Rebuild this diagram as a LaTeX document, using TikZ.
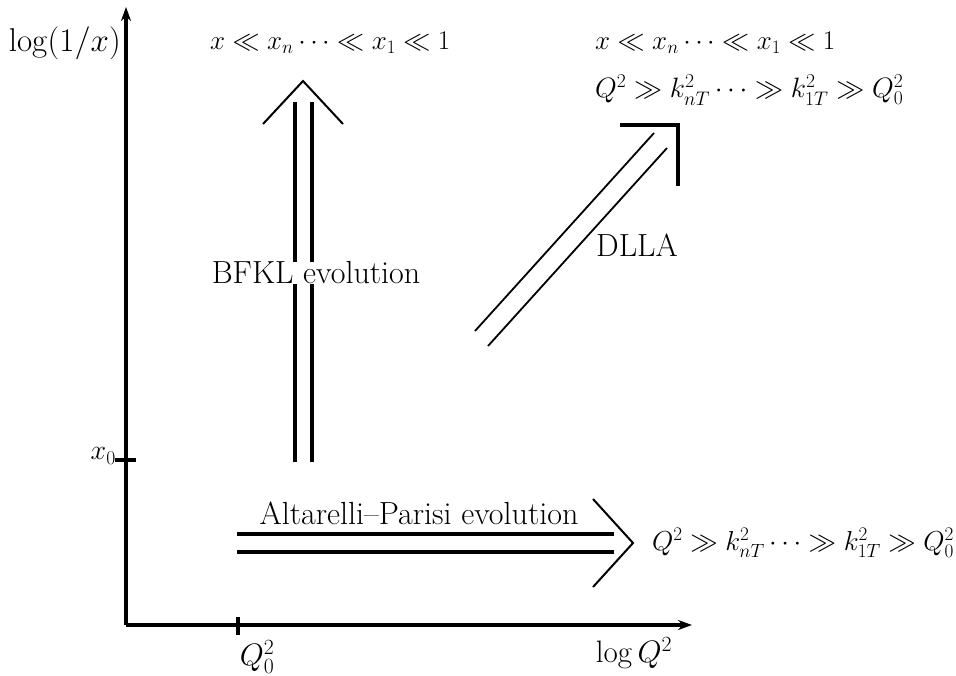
\RequirePackage{fix-cm}
\documentclass[tikz,border=0pt]{standalone}
\usepackage{amsmath,amssymb}
\usetikzlibrary{arrows.meta}
\begin{document}
\begin{tikzpicture}[x=1pt,y=-1pt,
  txt/.style={font=\fontsize{32}{38}\selectfont, inner sep=0pt},
  mtxt/.style={font=\fontsize{27}{32}\selectfont, inner sep=0pt},
  axlab/.style={font=\fontsize{31}{37}\selectfont, inner sep=0pt},
  axis/.style={line width=3.6pt, -{Stealth[length=14pt,width=10pt]}},
  thick2/.style={line width=3.6pt},
  thin2/.style={line width=1.8pt},
  headthin/.style={line width=2pt},
  headthick/.style={line width=3.8pt}]
\useasboundingbox (0,0) rectangle (956,675);
% axes
\coordinate (O) at (126,625);
\coordinate (ytop) at (126,7);
\coordinate (xend) at (692,625);
\draw[axis] (O) -- (ytop);
\draw[axis] (O) -- (xend);
% ticks
\coordinate (x0a) at (115,460);
\coordinate (x0b) at (136,460);
\draw[thick2] (x0a) -- (x0b);
\coordinate (q0a) at (238,617);
\coordinate (q0b) at (238,635);
\draw[thick2] (q0a) -- (q0b);
% axis labels
\node[axlab,font=\fontsize{33}{40}\selectfont,anchor=east] (ylab) at (121,43) {$\log(1/x)$};
\node[axlab,font=\fontsize{28}{34}\selectfont,anchor=east] (x0lab) at (116,456) {$x_0$};
\node[axlab] (q0lab) at (257,657) {$Q_0^2$};
\node[axlab] (logq) at (634,653) {$\log Q^2$};
% BFKL arrow
\node[txt] (bfkl) at (316,273) {BFKL evolution};
\coordinate (b1s) at (295,462); \coordinate (b1e) at (295,102);
\coordinate (b2s) at (312,462); \coordinate (b2e) at (312,102);
\draw[thick2] (b1s) -- (bfkl.south -| b1s);
\draw[thick2] (bfkl.north -| b1s) -- (b1e);
\draw[thick2] (b2s) -- (bfkl.south -| b2s);
\draw[thick2] (bfkl.north -| b2s) -- (b2e);
\coordinate (bh1) at (263,124); \coordinate (bh2) at (303,81); \coordinate (bh3) at (343,124);
\draw[headthin] (bh1) -- (bh2) -- (bh3);
\node[mtxt,anchor=west] (toptxt) at (210,43) {$x\ll x_n\cdots\ll x_1\ll 1$};
% DLLA arrow
\coordinate (d1s) at (475,331); \coordinate (d1e) at (654,133);
\coordinate (d2s) at (488,346); \coordinate (d2e) at (667,148);
\draw[thin2] (d1s) -- (d1e);
\draw[thin2] (d2s) -- (d2e);
\coordinate (dh1) at (620,125); \coordinate (dh2) at (678,125); \coordinate (dh3) at (678,186);
\draw[headthick] (dh1) -- (dh2) -- (dh3);
\node[txt] (dlla) at (637,245) {DLLA};
\node[mtxt,anchor=west] (tr1) at (595,43) {$x\ll x_n\cdots\ll x_1\ll 1$};
\node[mtxt,font=\fontsize{28}{34}\selectfont,anchor=west] (tr2) at (595,90) {$Q^2\gg k_{nT}^2\cdots\gg k_{1T}^2\gg Q_0^2$};
% AP arrow
\node[txt] (ap) at (419,513) {Altarelli--Parisi evolution};
\coordinate (a1s) at (237,534); \coordinate (a1e) at (614,534);
\coordinate (a2s) at (237,552); \coordinate (a2e) at (614,552);
\draw[thick2] (a1s) -- (a1e);
\draw[thick2] (a2s) -- (a2e);
\coordinate (ah1) at (593,499); \coordinate (ah2) at (633,543); \coordinate (ah3) at (593,587);
\draw[headthin] (ah1) -- (ah2) -- (ah3);
\node[mtxt,font=\fontsize{27.4}{33}\selectfont,anchor=west] (br) at (652,543) {$Q^2\gg k_{nT}^2\cdots\gg k_{1T}^2\gg Q_0^2$};
\end{tikzpicture}
\end{document}
